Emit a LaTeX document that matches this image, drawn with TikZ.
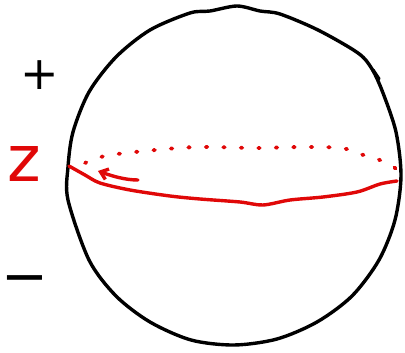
\documentclass[tikz,border=0pt]{standalone}
\usepackage{fontspec}
\newfontfamily\hand{DejaVu Sans}
\usetikzlibrary{arrows.meta}
\definecolor{pen}{HTML}{E00808}
\tikzset{
  outline/.style={line width=3.4pt, line cap=round, line join=round, black},
  redline/.style={line width=3.4pt, line cap=round, line join=round, pen},
  backarc/.style={line width=3.8pt, line cap=round, pen, dash pattern=on 1.5pt off 16pt},
  lbl/.style={inner sep=0pt, font=\hand}
}
\begin{document}
\begin{tikzpicture}[x=1pt,y=-1pt]
\useasboundingbox (0,0) rectangle (405,353);
% sphere outline
\draw[outline] plot[smooth cycle, tension=0.5] coordinates {
 (401,176) (396,132) (383,93) (372,69) (358,53) (318,30) (280,14) (260,11) (237,6)
 (210,11) (190,13) (150,30) (116,57) (89,92) (73,132) (68,167) (68,200)
 (89,260) (116,296) (150,322) (191,340) (234,345) (277,339) (317,322)
 (352,296) (379,260) (395,220)};
% small tick on the right
\draw[outline] (373,70) -- (379,79);
% equator, front
\draw[redline] plot[smooth, tension=0.5] coordinates {
 (69,166) (85,175) (100,183) (130,190) (170,196) (200,199) (240,202)
 (263,205) (290,200) (323,197) (357,192) (380,184) (397,181)};
% equator, back (dotted)
\draw[backarc] plot[smooth, tension=0.6] coordinates {
 (85,163) (105,156) (145,151) (198,147) (254,148) (303,147) (341,148)
 (360,154) (377,159) (391,165) (398,171)};
% arrow
\draw[redline, -{Straight Barb[length=7pt,width=11pt]}] (138,180) .. controls (125,180) and (112,176) .. (98,171);
% labels
\node[lbl, font=\hand\fontsize{46}{46}\selectfont] (plus) at (40,75) {+};
\node[lbl, font=\hand\fontsize{64}{64}\selectfont, text=pen] (z) at (24,164) {z};
\node[lbl, font=\hand\fontsize{56}{56}\selectfont] (minus) at (25,286) {−};
\end{tikzpicture}
\end{document}
